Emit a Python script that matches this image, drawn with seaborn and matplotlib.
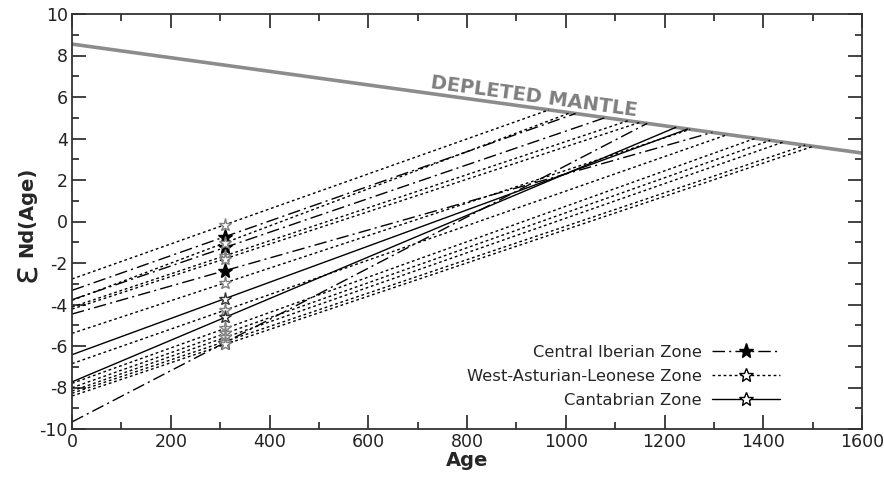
import numpy as np
import pandas as pd
import matplotlib
matplotlib.use("Agg")
import matplotlib.pyplot as plt
import seaborn as sns
from matplotlib.ticker import MultipleLocator
from matplotlib.lines import Line2D

# ---- data ----
dm_age = [0, 1600]          # depleted mantle reference line
dm_eps = [8.55, 3.3]
sample_age = 310            # crystallisation age of the samples

ciz_e0 = [-3.32, -3.77, -4.46, -9.66]          # Central Iberian Zone, eps at 0 Ma
ciz_tdm = [1020, 1080, 1297, 1165]             # model ages (meet DM)
walz_e0 = [-2.77, -3.8, -4.12, -4.22, -5.39, -6.85, -7.8, -8.01, -8.17, -8.28, -8.41]
walz_tdm = [966, 1009, 1126, 1150, 1252, 1328, 1384, 1414, 1440, 1485, 1501]
cz_e0 = [-6.42, -7.73]                          # Cantabrian Zone
cz_tdm = [1247, 1223]

x_ticks = [0, 200, 400, 600, 800, 1000, 1200, 1400, 1600]
y_ticks = [-10, -8, -6, -4, -2, 0, 2, 4, 6, 8, 10]


def dm(t):
    return np.interp(t, dm_age, dm_eps)


sns.set_style("ticks")
plt.rcParams["font.family"] = ["DejaVu Sans"]
plt.rcParams["axes.unicode_minus"] = False

fig = plt.figure(figsize=(8.84, 4.78), dpi=100)
ax = fig.add_axes([72 / 884, 1 - 429 / 478, (862 - 72) / 884, (429 - 14) / 478])

# depleted mantle
sns.lineplot(x=dm_age, y=dm_eps, ax=ax, color="#8c8c8c", lw=2.6, legend=False)

DASHDOT = (0, (9, 3, 1.5, 3))
groups = [
    ("Central Iberian Zone", ciz_e0, ciz_tdm, DASHDOT, "black", "black", 11),
    ("West-Asturian-Leonese Zone", walz_e0, walz_tdm, (0, (2, 2)), "white", "#808080", 9.5),
    ("Cantabrian Zone", cz_e0, cz_tdm, "-", "white", "#333333", 9.5),
]

rows = []
for name, e0s, tdms, ls, mfc, mec, ms in groups:
    for e0, t in zip(e0s, tdms):
        xs = [0, t]
        ys = [e0, float(dm(t))]
        sns.lineplot(x=xs, y=ys, ax=ax, color="black", lw=1.0, linestyle=ls, legend=False)
        rows.append((name, sample_age, float(np.interp(sample_age, xs, ys))))

pts = pd.DataFrame(rows, columns=["zone", "age", "eps"])
for name, e0s, tdms, ls, mfc, mec, ms in groups:
    sub = pts[pts.zone == name]
    ax.plot(sub.age, sub.eps, linestyle="none", marker="*", ms=ms,
            markerfacecolor=mfc, markeredgecolor=mec, markeredgewidth=1.0, zorder=5)

ax.set_xlim(0, 1600)
ax.set_ylim(-10, 10)
ax.set_xticks(x_ticks)
ax.set_yticks(y_ticks)
ax.xaxis.set_minor_locator(MultipleLocator(100))
ax.yaxis.set_minor_locator(MultipleLocator(1))
ax.tick_params(which="both", direction="in", top=True, right=True, labelsize=12.5,
               width=1.2, colors="#222222")
ax.tick_params(which="major", length=10, pad=3)
ax.tick_params(which="minor", length=5)
for sp in ax.spines.values():
    sp.set_linewidth(1.3)
    sp.set_color("#333333")

ax.set_xlabel("Age", fontsize=14, fontweight="bold", labelpad=0)
ax.set_ylabel("")
fig.text(0.028, 1 - 272 / 478, "\u03b5", fontsize=26, rotation=90, ha="center", va="center")
fig.text(0.030, 1 - 212 / 478, "Nd(Age)", fontsize=14, fontweight="bold", rotation=90,
         ha="center", va="center")

ax.text(935, 6.0, "DEPLETED MANTLE", color="#7f7f7f", fontsize=14, fontweight="bold",
        rotation=-7.8, ha="center", va="center")

handles = [
    Line2D([0], [0], color="black", lw=1, linestyle=DASHDOT, marker="*", ms=11,
           markerfacecolor="black", markeredgecolor="black"),
    Line2D([0], [0], color="black", lw=1, linestyle=(0, (2, 2)), marker="*", ms=10,
           markerfacecolor="white", markeredgecolor="black"),
    Line2D([0], [0], color="black", lw=1, linestyle="-", marker="*", ms=10,
           markerfacecolor="white", markeredgecolor="black"),
]
leg = ax.legend(handles, [g[0] for g in groups], loc="lower right", bbox_to_anchor=(0.905, 0.035),
                frameon=False, markerfirst=False, numpoints=1, handlelength=4.2, fontsize=11.8,
                labelspacing=0.55, handletextpad=0.6, borderaxespad=0)

fig.savefig("out.png", dpi=100)
